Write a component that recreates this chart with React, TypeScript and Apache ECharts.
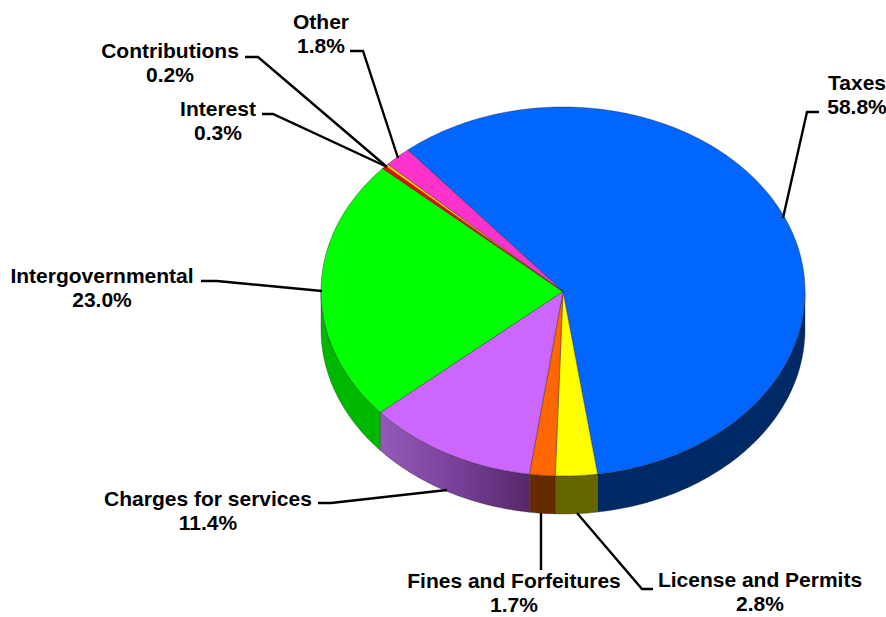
import React, { useEffect, useRef } from "react";
import * as echarts from "echarts";

// Revenue sources, clockwise from the upper left of the disc
const categories = [
  "Taxes",
  "License and Permits",
  "Fines and Forfeitures",
  "Charges for services",
  "Intergovernmental",
  "Interest",
  "Contributions",
  "Other",
];
const shares = [58.8, 2.8, 1.7, 11.4, 23.0, 0.3, 0.2, 1.8];
const topColors = ["#0066ff", "#ffff00", "#ff6600", "#cc66ff", "#00ff00", "#ff0000", "#ffcc00", "#ff33cc"];
const sideColors = ["#002a66", "#666600", "#662a00", "", "#00b800", "#990000", "#997a00", "#991f7a"];

// Disc geometry of the tilted pie
const CX = 563;
const CY = 291.5;
const RX = 242;
const RY = 184.5;
const DEPTH = 38;
const START_DEG = -39.9;

// Centre of each label's first line, and the leader lines
const labelCenters = [
  [857, 82], [760, 579], [514, 580], [208, 498],
  [102, 275], [218, 108], [170, 50], [321, 21],
];
const LINE_HEIGHT = 24.5;
const leaderLines = [
  [[819, 112], [807, 112], [783, 218]],
  [[653, 589], [642, 589], [577, 513]],
  [[541, 570], [541, 513]],
  [[318, 503], [331, 503], [447, 490]],
  [[201, 281], [217, 281], [322, 291]],
  [[262, 114], [273, 114], [385, 166]],
  [[245, 57], [258, 57], [387, 167]],
  [[350, 51], [363, 51], [398, 158]],
];

const total = shares.reduce((a, b) => a + b, 0);

function sliceRange(i: number): [number, number] {
  const before = shares.slice(0, i).reduce((a, b) => a + b, 0);
  return [START_DEG + (before / total) * 360, START_DEG + ((before + shares[i]) / total) * 360];
}

function rimPoint(deg: number, dy = 0): number[] {
  const r = (deg * Math.PI) / 180;
  return [CX + RX * Math.sin(r), CY - RY * Math.cos(r) + dy];
}

function arc(from: number, to: number, dy = 0): number[][] {
  const n = Math.max(2, Math.ceil(Math.abs(to - from)));
  const pts: number[][] = [];
  for (let k = 0; k <= n; k++) pts.push(rimPoint(from + ((to - from) * k) / n, dy));
  return pts;
}

const edge = { stroke: "rgba(40,40,40,0.7)", lineWidth: 0.6 };

function renderTop(params: any) {
  const [a0, a1] = sliceRange(params.dataIndex);
  return {
    type: "polygon",
    shape: { points: [[CX, CY], ...arc(a0, a1)] },
    style: { fill: topColors[params.dataIndex], ...edge },
  };
}

function renderSide(params: any) {
  const i = params.dataIndex;
  const [a0, a1] = sliceRange(i);
  const from = Math.max(a0, 90);
  const to = Math.min(a1, 270);
  if (to <= from) return null;
  const fill =
    sideColors[i] ||
    new echarts.graphic.LinearGradient(0, 0, 1, 0, [
      { offset: 0, color: "#945ab8" },
      { offset: 0.5, color: "#7a4099" },
      { offset: 1, color: "#562868" },
    ]);
  return {
    type: "polygon",
    shape: { points: [...arc(from, to), ...arc(to, from, DEPTH)] },
    style: { fill, stroke: "rgba(30,30,30,0.6)", lineWidth: 0.5 },
  };
}

export default function App() {
  const ref = useRef<HTMLDivElement>(null);

  useEffect(() => {
    const chart = echarts.init(ref.current!, null, { renderer: "svg" });
    const graphic: any[] = [];
    categories.forEach((name, i) => {
      graphic.push({
        type: "polyline",
        shape: { points: leaderLines[i] },
        style: { stroke: "#000", lineWidth: 2.4, fill: "none" },
        z: 10,
      });
      graphic.push({
        type: "text",
        x: labelCenters[i][0],
        y: labelCenters[i][1] - LINE_HEIGHT / 2,
        style: {
          text: `${name}\n${shares[i].toFixed(1)}%`,
          fill: "#000",
          font: 'bold 21px "Liberation Sans", Arial, sans-serif',
          lineHeight: LINE_HEIGHT,
          align: "center",
          verticalAlign: "top",
        },
        z: 11,
      });
    });
    chart.setOption({
      animation: false,
      backgroundColor: "#fff",
      series: [
        { type: "custom", coordinateSystem: "none", silent: true, renderItem: renderSide, data: shares, z: 1 },
        { type: "custom", coordinateSystem: "none", silent: true, renderItem: renderTop, data: shares, z: 2 },
      ],
      graphic,
    });
    return () => chart.dispose();
  }, []);

  return <div ref={ref} style={{ position: "fixed", left: 0, top: 0, width: 886, height: 617 }} />;
}
